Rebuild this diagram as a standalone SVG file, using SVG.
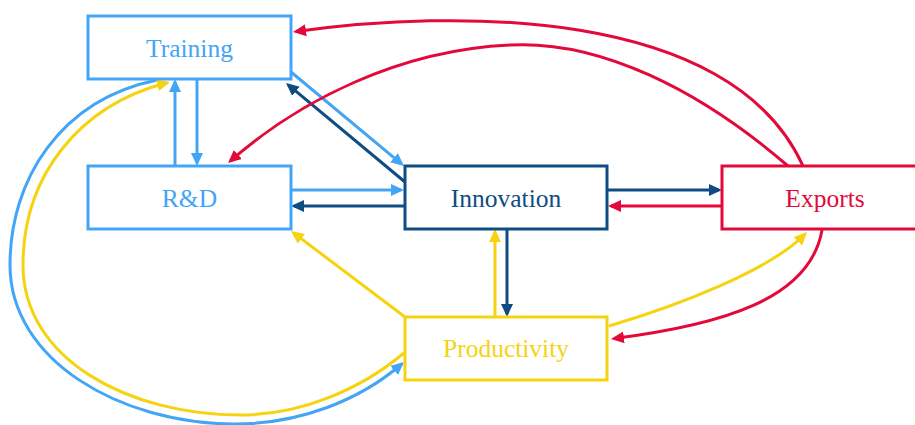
<svg xmlns="http://www.w3.org/2000/svg" width="915" height="425" viewBox="0 0 915 425">
<style>
.box{fill:#fff;stroke-width:3}
.lbl{font-family:"Liberation Serif","DejaVu Serif",serif;font-size:25.5px;text-anchor:middle}
.c{fill:none;stroke-width:3}
.lb{stroke:#42A5F5}.db{stroke:#0E4C82}.rd{stroke:#E3093A}.yl{stroke:#F5D30F}
</style>
<defs>
<marker id="mLB" markerUnits="userSpaceOnUse" markerWidth="13" markerHeight="12" viewBox="0 0 13 12" refX="10" refY="6" orient="auto"><path d="M0,0 L13,6 L0,12 z" fill="#42A5F5"/></marker>
<marker id="mDB" markerUnits="userSpaceOnUse" markerWidth="13" markerHeight="12" viewBox="0 0 13 12" refX="10" refY="6" orient="auto"><path d="M0,0 L13,6 L0,12 z" fill="#0E4C82"/></marker>
<marker id="mRD" markerUnits="userSpaceOnUse" markerWidth="13" markerHeight="12" viewBox="0 0 13 12" refX="10" refY="6" orient="auto"><path d="M0,0 L13,6 L0,12 z" fill="#E3093A"/></marker>
<marker id="mYL" markerUnits="userSpaceOnUse" markerWidth="13" markerHeight="12" viewBox="0 0 13 12" refX="10" refY="6" orient="auto"><path d="M0,0 L13,6 L0,12 z" fill="#F5D30F"/></marker>
</defs>
<rect width="915" height="425" fill="#fff"/>
<g id="connectors">
<path class="c lb" d="M197,79 V163" marker-end="url(#mLB)"/>
<path class="c lb" d="M175,166 V82" marker-end="url(#mLB)"/>
<path class="c lb" d="M291,72 L401.7,164.1" marker-end="url(#mLB)"/>
<path class="c db" d="M405,182 L288.3,84.9" marker-end="url(#mDB)"/>
<path class="c lb" d="M291,190 H401" marker-end="url(#mLB)"/>
<path class="c db" d="M405,206 H294" marker-end="url(#mDB)"/>
<path class="c db" d="M607,190 H719" marker-end="url(#mDB)"/>
<path class="c rd" d="M722,206 H611" marker-end="url(#mRD)"/>
<path class="c db" d="M507,229 V314" marker-end="url(#mDB)"/>
<path class="c yl" d="M495,317 V232" marker-end="url(#mYL)"/>
<path class="c yl" d="M405,317 L293.4,232.8" marker-end="url(#mYL)"/>
<path class="c rd" d="M803,166 C730,5 450,10 296,31.6" marker-end="url(#mRD)"/>
<path class="c rd" d="M788,166 C700,90 600,40 510,45 C400,50 300,100 230.3,161" marker-end="url(#mRD)"/>
<path class="c yl" d="M609,326 C680,305 770,270 804.9,234.2" marker-end="url(#mYL)"/>
<path class="c rd" d="M822,230 C810,300 720,325 614,338.6" marker-end="url(#mRD)"/>
<path class="c lb" d="M157,80 C60,100 10,180 10,265 C10,360 120,424 235,424 C300,424 360,400 401.7,364" marker-end="url(#mLB)"/>
<path class="c yl" d="M404,353 C360,390 300,415 240,415 C130,415 23,360 23,265 C23,175 80,105 167.1,82.7" marker-end="url(#mYL)"/>
</g>
<g id="training">
<rect class="box" x="88" y="16" width="203" height="63" stroke="#42A5F5"/>
<text class="lbl" x="189.5" y="56.5" fill="#42A5F5">Training</text>
</g>
<g id="rd">
<rect class="box" x="88" y="166" width="203" height="63" stroke="#42A5F5"/>
<text class="lbl" x="189.5" y="206.5" fill="#42A5F5">R&amp;D</text>
</g>
<g id="innovation">
<rect class="box" x="405" y="166" width="202" height="63" stroke="#0E4C82"/>
<text class="lbl" x="506" y="206.5" fill="#0E4C82">Innovation</text>
</g>
<g id="exports">
<rect class="box" x="722" y="166" width="206" height="63" stroke="#E3093A"/>
<text class="lbl" x="825" y="206.5" fill="#E3093A">Exports</text>
</g>
<g id="productivity">
<rect class="box" x="405" y="317" width="202" height="63" stroke="#F5D30F"/>
<text class="lbl" x="506" y="357" fill="#F5D30F">Productivity</text>
</g>
</svg>
